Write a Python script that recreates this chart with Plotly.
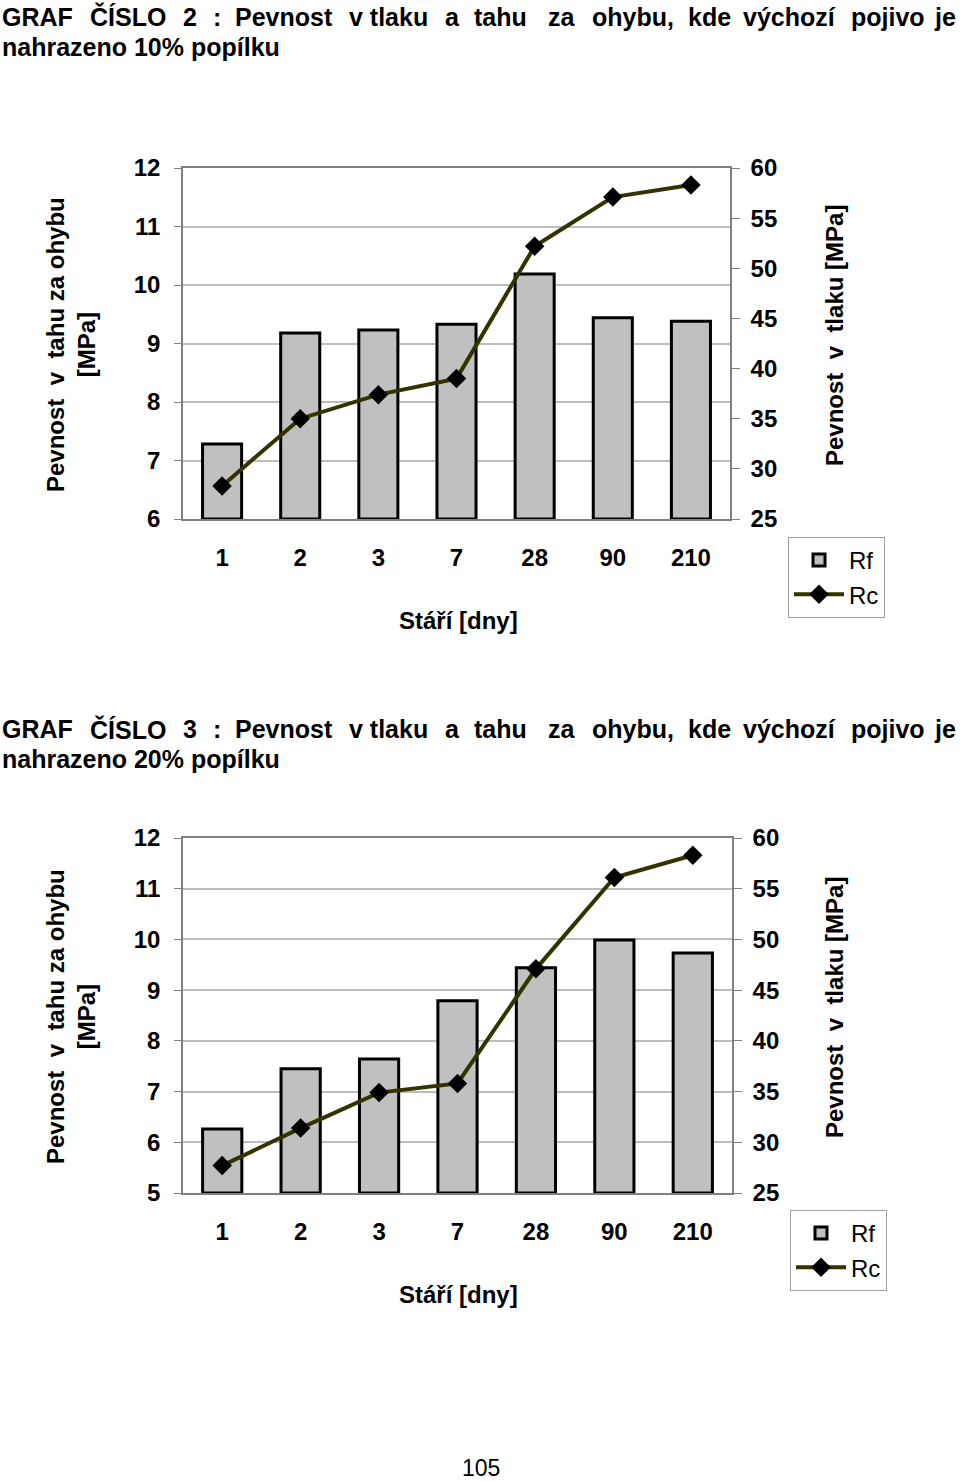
import plotly.graph_objects as go

# ---------------- data ----------------
CATEGORIES = ["1", "2", "3", "7", "28", "90", "210"]

RF_10 = [7.28, 9.18, 9.23, 9.33, 10.19, 9.44, 9.38]
RC_10 = [28.3, 35.0, 37.4, 39.0, 52.2, 57.1, 58.3]

RF_20 = [6.26, 7.45, 7.64, 8.79, 9.44, 9.99, 9.73]
RC_20 = [27.7, 31.4, 34.9, 35.8, 47.1, 56.1, 58.3]

LEFT_TICKS_1 = [6, 7, 8, 9, 10, 11, 12]
LEFT_TICKS_2 = [5, 6, 7, 8, 9, 10, 11, 12]
RIGHT_TICKS = [25, 30, 35, 40, 45, 50, 55, 60]

TITLE_WORDS_1 = ["GRAF", "ČÍSLO", "2", ":", "Pevnost", "v tlaku", "a", "tahu", "za",
                 "ohybu,", "kde", "výchozí", "pojivo", "je"]
TITLE_WORDS_2 = ["GRAF", "ČÍSLO", "3", ":", "Pevnost", "v tlaku", "a", "tahu", "za",
                 "ohybu,", "kde", "výchozí", "pojivo", "je"]
TITLE_LINE2_1 = "nahrazeno 10% popílku"
TITLE_LINE2_2 = "nahrazeno 20% popílku"
X_TITLE = "Stáří [dny]"
Y_LEFT_TITLE = "Pevnost  v  tahu za ohybu<br>[MPa]"
Y_RIGHT_TITLE = "Pevnost  v  tlaku [MPa]"
PAGE_NUMBER = "105"

# ---------------- layout helpers ----------------
W, H = 960, 1481
FONT = "Liberation Sans, Arial, Helvetica, sans-serif"
GRAY = "#808080"
GRID = "#bdbdbd"
LINE_COLOR = "#333300"
BAR_FILL = "#c0c0c0"


def px(x):
    return x / W


def py(y):
    return 1 - y / H


# word left edges for the justified first title line
WORD_X = [0, 88, 181, 211, 233, 347, 443, 472, 546, 590, 686, 741, 849, 958]

fig = go.Figure()

charts = [
    dict(rf=RF_10, rc=RC_10, lticks=LEFT_TICKS_1, top=168, bottom=519, left=183, right=730,
         xa="x", ya="y", ya2="y2", legend="legend", title_y=17,
         words=TITLE_WORDS_1, line2=TITLE_LINE2_1, xtitle_y=620, lt_y=345, rt_y=336),
    dict(rf=RF_20, rc=RC_20, lticks=LEFT_TICKS_2, top=838, bottom=1193, left=183, right=732,
         xa="x2", ya="y3", ya2="y4", legend="legend2", title_y=729,
         words=TITLE_WORDS_2, line2=TITLE_LINE2_2, xtitle_y=1294, lt_y=1017, rt_y=1008),
]

annotations = []
layout_axes = {}

for i, c in enumerate(charts):
    lmin, lmax = c["lticks"][0], c["lticks"][-1]
    fig.add_trace(go.Bar(
        x=CATEGORIES, y=[v - lmin for v in c["rf"]], base=lmin,
        name="Rf", width=0.5,
        marker=dict(color=BAR_FILL, line=dict(color="black", width=3)),
        xaxis=c["xa"], yaxis=c["ya"], legend=c["legend"],
        customdata=c["rf"], hovertemplate="%{x}: %{customdata}<extra>Rf</extra>",
    ))
    fig.add_trace(go.Scatter(
        x=CATEGORIES, y=c["rc"], name="Rc", mode="lines+markers",
        line=dict(color=LINE_COLOR, width=4),
        marker=dict(symbol="diamond", size=15, color="black"),
        xaxis=c["xa"], yaxis=c["ya2"], legend=c["legend"],
    ))

    xkey = "xaxis" if c["xa"] == "x" else "xaxis" + c["xa"][1:]
    ykey = "yaxis" if c["ya"] == "y" else "yaxis" + c["ya"][1:]
    y2key = "yaxis" + c["ya2"][1:]
    xdom = [px(c["left"]), px(c["right"])]
    ydom = [py(c["bottom"]), py(c["top"])]

    layout_axes[xkey] = dict(
        domain=xdom, anchor=c["ya"], type="category", range=[-0.5, 6.5],
        showline=True, linecolor=GRAY, linewidth=1.5, mirror=True,
        ticks="", showgrid=False, ticklabelstandoff=16, automargin=False,
        tickfont=dict(family=FONT, size=24, color="black", weight="bold"),
    )
    layout_axes[ykey] = dict(
        domain=ydom, anchor=c["xa"], range=[lmin, lmax], tickvals=c["lticks"],
        showgrid=True, gridcolor=GRID, gridwidth=1.5, zeroline=False,
        showline=True, linecolor=GRAY, linewidth=1.5,
        ticks="outside", ticklen=7, tickcolor=GRAY, tickwidth=1.2,
        ticklabelstandoff=9, automargin=False,
        tickfont=dict(family=FONT, size=24, color="black", weight="bold"),
    )
    layout_axes[y2key] = dict(
        overlaying=c["ya"], anchor=c["xa"], side="right",
        range=[RIGHT_TICKS[0], RIGHT_TICKS[-1]], tickvals=RIGHT_TICKS,
        showgrid=False, zeroline=False,
        showline=True, linecolor=GRAY, linewidth=1.5,
        ticks="outside", ticklen=8, tickcolor=GRAY, tickwidth=1.2,
        ticklabelstandoff=6, automargin=False,
        tickfont=dict(family=FONT, size=24, color="black", weight="bold"),
    )

    # title words (justified line)
    for word, wx in zip(c["words"], WORD_X):
        last = word == c["words"][-1]
        annotations.append(dict(
            text=word, x=px(wx), y=py(c["title_y"]),
            xref="paper", yref="paper", xanchor="right" if last else "left",
            yanchor="middle", showarrow=False,
            font=dict(family=FONT, size=25, color="black", weight="bold"),
        ))
    annotations.append(dict(
        text=c["line2"], x=0, y=py(c["title_y"] + 30), xref="paper", yref="paper",
        xanchor="left", yanchor="middle", showarrow=False,
        font=dict(family=FONT, size=25, color="black", weight="bold"),
    ))
    # axis titles
    annotations.append(dict(
        text=X_TITLE, x=px(458), y=py(c["xtitle_y"]), xref="paper", yref="paper",
        xanchor="center", yanchor="middle", showarrow=False,
        font=dict(family=FONT, size=24, color="black", weight="bold"),
    ))
    annotations.append(dict(
        text=Y_LEFT_TITLE, x=px(71), y=py(c["lt_y"]), xref="paper", yref="paper",
        xanchor="center", yanchor="middle", showarrow=False, textangle=-90,
        font=dict(family=FONT, size=24, color="black", weight="bold"),
    ))
    annotations.append(dict(
        text=Y_RIGHT_TITLE, x=px(834), y=py(c["rt_y"]), xref="paper", yref="paper",
        xanchor="center", yanchor="middle", showarrow=False, textangle=-90,
        font=dict(family=FONT, size=24, color="black", weight="bold"),
    ))

annotations.append(dict(
    text=PAGE_NUMBER, x=px(481), y=py(1468), xref="paper", yref="paper",
    xanchor="center", yanchor="middle", showarrow=False,
    font=dict(family=FONT, size=23, color="black"),
))

legend_style = dict(
    bgcolor="white", bordercolor="#a0a0a0", borderwidth=1,
    font=dict(family=FONT, size=24, color="black"),
    xanchor="left", yanchor="top", itemwidth=50, tracegroupgap=0,
)

fig.update_layout(
    width=W, height=H,
    margin=dict(l=0, r=0, t=0, b=0, autoexpand=False),
    paper_bgcolor="white", plot_bgcolor="white",
    showlegend=True,
    bargap=0.5,
    legend=dict(legend_style, x=px(788), y=py(537)),
    legend2=dict(legend_style, x=px(790), y=py(1210)),
    annotations=annotations,
    **layout_axes,
)

fig.write_html(
    "out.html",
    config={"displayModeBar": False},
    post_script="document.body.style.margin='0';document.body.style.padding='0';"
                "document.documentElement.style.overflow='hidden';",
)
